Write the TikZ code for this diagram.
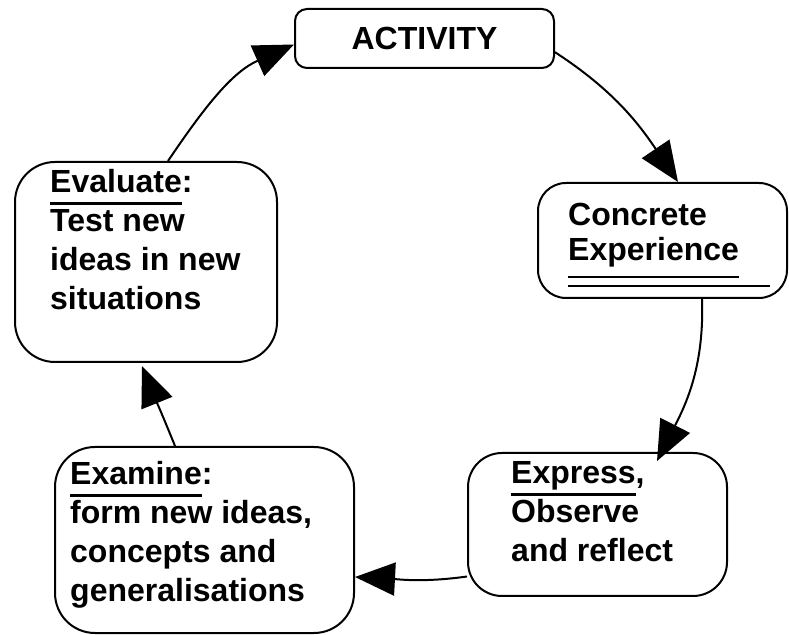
\documentclass[tikz,border=0pt]{standalone}
\usepackage{fontspec}
\setmainfont{Liberation Sans}
\usetikzlibrary{arrows.meta}

\newcommand{\ulword}[1]{\setbox0\hbox{#1}\rlap{\rule[-12.5pt]{\wd0}{2.5pt}}#1}
\newcommand{\dblword}[1]{\setbox0\hbox{#1}\rlap{\rule[-18pt]{\wd0}{2.5pt}}\rlap{\rule[-27pt]{202pt}{2pt}}#1}

\begin{document}
\begin{tikzpicture}[x=1pt,y=1pt,
	box/.style={draw, line width=2pt, rounded corners=#1},
	box/.default=35pt,
	txt/.style={anchor=north west, align=left, inner sep=0pt, font=\bfseries\fontsize{32}{39}\selectfont},
	cyc/.style={line width=2pt, -{Triangle[length=40pt,width=33pt]}}]

\useasboundingbox (0,0) rectangle (789,634);

% the five stages
\node[box=12pt, minimum width=259pt, minimum height=59pt, font=\bfseries\fontsize{32}{39}\selectfont] (act) at (424.5,595.5) {ACTIVITY};
\node[box=28pt, minimum width=249pt, minimum height=115pt] (conc) at (662.5,393.5) {};
\node[box=34pt, minimum width=259pt, minimum height=143pt] (expr) at (597.5,109.5) {};
\node[box=40pt, minimum width=299pt, minimum height=186pt] (exam) at (204.5,94) {};
\node[box=40pt, minimum width=262pt, minimum height=200pt] (eval) at (146,372) {};

\node[txt, font=\bfseries\fontsize{32}{35}\selectfont] (conctext) at (568,433.5) {\strut Concrete\\\dblword{Experience}};
\node[txt] (exprtext) at (511,178.3) {\strut\ulword{Express},\\Observe\\and reflect};
\node[txt] (examtext) at (70,177.3) {\strut\ulword{Examine}:\\form new ideas,\\concepts and\\generalisations};
\node[txt] (evaltext) at (50,469.3) {\strut\ulword{Evaluate}:\\Test new\\ideas in new\\situations};

% the cycle
\draw[cyc] (act.-6) to[out=-33,in=124] ([xshift=15.5pt]conc.north);
\draw[cyc] ([xshift=39.5pt]conc.south) to[out=-88,in=63] ([xshift=59.5pt,yshift=-9pt]expr.north);
\draw[cyc] ([yshift=-52pt]expr.west) to[out=188,in=-3] ([yshift=-37pt]exam.east);
\draw[cyc] ([xshift=-29.5pt]exam.north) to[out=112,in=-68] ([xshift=-4pt,yshift=-3pt]eval.south);
\draw[cyc] ([xshift=22pt]eval.north) to[out=56,in=204] ([yshift=-6pt]act.west);

\end{tikzpicture}
\end{document}
